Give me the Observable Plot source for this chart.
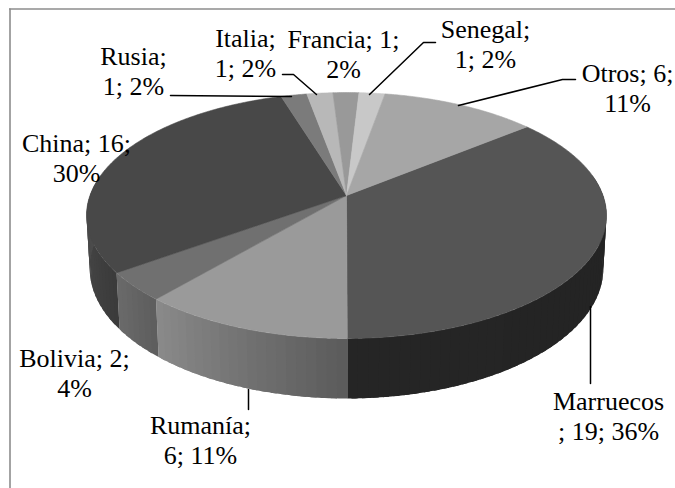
<!DOCTYPE html>
<html>
<head>
<meta charset="utf-8">
<script src="https://cdn.jsdelivr.net/npm/d3@7"></script>
<script src="https://cdn.jsdelivr.net/npm/@observablehq/plot@0.6"></script>
<style>html,body{margin:0;padding:0;background:#fff}svg{display:block}</style>
</head>
<body>
<div id="chart"></div>
<script>
const categories = ["Marruecos","Rumanía","Bolivia","China","Rusia","Italia","Francia","Senegal","Otros"];
const values = [19,6,2,16,1,1,1,1,6];
const labelLines = [
  ["Marruecos","; 19; 36%"],["Rumanía;","6; 11%"],["Bolivia; 2;","4%"],["China; 16;","30%"],
  ["Rusia;","1; 2%"],["Italia;","1; 2%"],["Francia; 1;","2%"],["Senegal;","1; 2%"],["Otros; 6;","11%"]
];
const topShades = ["#555555","#9a9a9a","#707070","#484848","#7b7b7b","#b8b8b8","#999999","#c8c8c8","#a6a6a6"];
const wallFrom = ["#232323","#5a5a5a","#5c5c5c","#3a3a3a","#444","#444","#444","#444","#444"];
const wallTo   = ["#252525","#8a8a8a","#6a6a6a","#707070","#444","#444","#444","#444","#444"];

// layout of the drawing, in picture units
const view = {cx:346, cy:195, f:256.5, g:119.7, k:0.1626, h:52.7, m:0.012, start:50.8};
const labelX = [608,200,74,76,133,245,343,485,627];
const labelY = [415,439,372,157,70,52,53,43,87];
const leaders = [
  [[590,306],[590,383]],[[248,389],[248,409]],null,null,
  [[170,95],[291,96]],[[282,74],[293,74],[316,94]],null,
  [[435,42],[423,42],[369,94]],[[575,79],[562,79],[458,105]]
];

const rad = d => d*Math.PI/180;
function proj(theta, depth){
  const X = Math.sin(rad(theta)), Y = -Math.cos(rad(theta));
  const den = 1 - view.k*Y + (depth ? view.m : 0);
  return [view.cx + view.f*X/den, view.cy + (view.g*Y + (depth ? view.h : 0))/den];
}
const total = d3.sum(values);
let acc = view.start;
const slices = values.map((v,i)=>{ const a=acc; acc+=v/total*360; return {i,a,b:acc}; });

// top faces
const topRows = [];
for (const s of slices){
  topRows.push({id:s.i, x:view.cx, y:view.cy, fill:topShades[s.i]});
  const n = Math.ceil(s.b-s.a)*2;
  for (let j=0;j<=n;j++){
    const [x,y]=proj(s.a+(s.b-s.a)*j/n,false);
    topRows.push({id:s.i,x,y,fill:topShades[s.i]});
  }
  topRows.push({id:s.i, x:view.cx, y:view.cy, fill:topShades[s.i]});
}
// wall bands: each slice's visible arc, split in wide bands that overlap
const wallRows = [];
let band = 0;
for (const s of slices){
  const lo = Math.max(s.a, 80), hi = Math.min(s.b, 280);
  if (hi <= lo) continue;
  const ramp = d3.interpolateRgb(wallFrom[s.i], wallTo[s.i]);
  const n = Math.max(1, Math.ceil((hi-lo)/2));
  for (let j=0;j<n;j++){
    const t0 = lo+(hi-lo)*j/n, t1 = Math.min(hi, lo+(hi-lo)*(j+1)/n + (s.b-s.a)/n*0.0 + 1.2);
    const fill = ramp((((t0+t1)/2)-s.a)/(s.b-s.a));
    const id = band++;
    for (let q=0;q<=4;q++){ const [x,y]=proj(t0+(t1-t0)*q/4,false); wallRows.push({id,x,y,fill}); }
    for (let q=4;q>=0;q--){ const [x,y]=proj(t0+(t1-t0)*q/4,true); wallRows.push({id,x,y,fill}); }
  }
}
const leaderRows = leaders.flatMap((l,i)=> l ? l.map(([x,y])=>({i,x,y})) : []);
const labelRows = categories.map((c,i)=>({x:labelX[i],y:labelY[i],text:labelLines[i].join("\n")}));

const face = {x:"x",y:"y",z:"id",fill:"fill",stroke:"fill",strokeWidth:0.6,strokeLinejoin:"round",curve:"linear"};
const chart = Plot.plot({
  width:675,height:488,margin:0,
  x:{domain:[0,675],range:[0,675],axis:null},
  y:{domain:[0,488],range:[0,488],axis:null},
  color:{type:"identity"},
  marks:[
    Plot.line(wallRows,{x:"x",y:"y",z:"id",fill:"fill",curve:"linear"}),
    Plot.line(topRows,face),
    Plot.line(leaderRows,{x:"x",y:"y",z:"i",stroke:"#000",strokeWidth:1.5,curve:"linear"}),
    Plot.ruleX([9.5],{y1:8.5,y2:488,stroke:"#8c8c8c",strokeWidth:1.6}),
    Plot.ruleY([8.5],{x1:9,x2:675,stroke:"#8c8c8c",strokeWidth:1.6}),
    Plot.text(labelRows,{x:"x",y:"y",text:"text",fontSize:26,lineHeight:1.15,fontFamily:"'Liberation Serif'",fill:"#000",textAnchor:"middle",lineAnchor:"middle"})
  ],
  style:{background:"#fff"}
});
document.getElementById("chart").append(chart);
</script>
</body>
</html>
